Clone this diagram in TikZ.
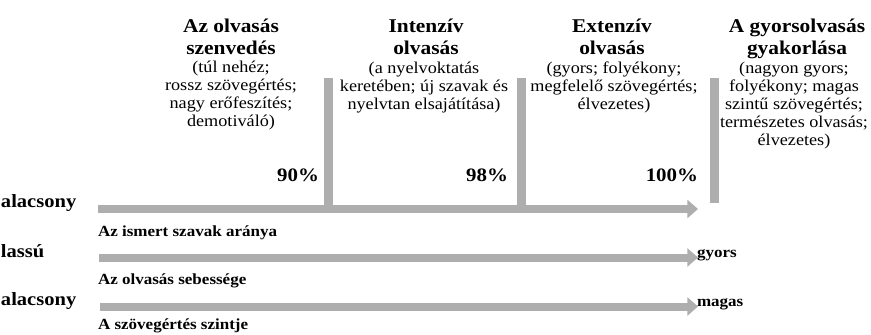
\documentclass[tikz,border=0pt]{standalone}
\usepackage{fontspec}
\setmainfont{Liberation Serif}[FakeStretch=1.1]
\usetikzlibrary{arrows.meta}
\definecolor{bargray}{RGB}{174,174,174}
\begin{document}
\begin{tikzpicture}[x=0.75pt,y=-0.75pt,
  every node/.style={inner sep=0pt,outer sep=0pt,text=black},
  hdr/.style={font=\fontsize{14.6}{16.5}\selectfont\bfseries,align=center,anchor=base},
  desc/.style={font=\fontsize{12.4}{13.5}\selectfont,align=center,anchor=base},
  pct/.style={font=\fontsize{14.25}{16}\selectfont\bfseries,anchor=base east},
  side/.style={font=\fontsize{14}{15}\selectfont\bfseries,anchor=base west},
  axl/.style={font=\fontsize{11.6}{13}\selectfont\bfseries,anchor=base west},
  hbar/.style={draw=bargray,line width=6pt,-{Triangle[length=8pt,width=13.5pt]}},
  vbar/.style={draw=bargray,line width=6.75pt}]
\useasboundingbox (0,0) rectangle (871,335);
% column headers (anchor = baseline of last line)
\node[hdr] (h1) at (231,55) {Az olvasás\\szenvedés};
\node[hdr] (h2) at (426,55) {Intenzív\\olvasás};
\node[hdr] (h3) at (612,55) {Extenzív\\olvasás};
\node[hdr] (h4) at (797,55) {A gyorsolvasás\\gyakorlása};
% descriptions
\node[desc] (d1) at (231,127) {(túl nehéz;\\rossz szövegértés;\\nagy erőfeszítés;\\demotiváló)};
\node[desc] (d2) at (424,109) {(a nyelvoktatás\\keretében; új szavak és\\nyelvtan elsajátítása)};
\node[desc] (d3) at (614,109) {(gyors; folyékony;\\megfelelő szövegértés;\\élvezetes)};
\node[desc] (d4) at (794,145) {(nagyon gyors;\\folyékony; magas\\szintű szövegértés;\\természetes olvasás;\\élvezetes)};
% percentages
\node[pct] (p1) at (319,181) {90\%};
\node[pct] (p2) at (508,181) {98\%};
\node[pct] (p3) at (698,181) {100\%};
% vertical bars
\coordinate (v1t) at (328,78); \coordinate (v1b) at (328,205);
\coordinate (v2t) at (521.5,78); \coordinate (v2b) at (521.5,205);
\coordinate (v3t) at (714,78); \coordinate (v3b) at (714,203);
\draw[vbar] (v1t) -- (v1b);
\draw[vbar] (v2t) -- (v2b);
\draw[vbar] (v3t) -- (v3b);
% horizontal arrows
\coordinate (a1s) at (98,209); \coordinate (a1e) at (698,209);
\coordinate (a2s) at (99,257.5); \coordinate (a2e) at (698,257.5);
\coordinate (a3s) at (100,306.5); \coordinate (a3e) at (698,306.5);
\draw[hbar] (a1s) -- (a1e);
\draw[hbar] (a2s) -- (a2e);
\draw[hbar] (a3s) -- (a3e);
% side labels
\node[side] (l1) at (1,207) {alacsony};
\node[side] (l2) at (1,257) {lassú};
\node[side] (l3) at (1,305) {alacsony};
\node[axl] (n1) at (98,236) {Az ismert szavak aránya};
\node[axl] (n2) at (98,284) {Az olvasás sebessége};
\node[axl] (n3) at (98,329) {A szövegértés szintje};
\node[axl] (r2) at (697,257) {gyors};
\node[axl] (r3) at (697,306) {magas};
\end{tikzpicture}
\end{document}
